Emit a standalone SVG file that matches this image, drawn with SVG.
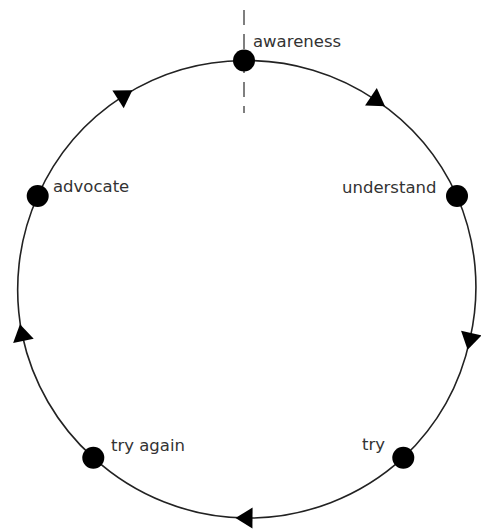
<svg xmlns="http://www.w3.org/2000/svg" xmlns:xlink="http://www.w3.org/1999/xlink" width="481" height="532" viewBox="0 0 481 532">
  <style>
    .edge { fill: none; stroke: #222; stroke-width: 1.6; marker-mid: url(#arrow); }
    .dot { fill: #000; }
    .label { font-family: "DejaVu Sans", Verdana, sans-serif; font-size: 16.5px; fill: #333; }
    .axis { stroke: #555; stroke-width: 1.5; stroke-dasharray: 15 9; fill: none; }
  </style>
  <defs>
    <marker id="arrow" viewBox="-15 -15 30 30" markerWidth="30" markerHeight="30" refX="0" refY="0" orient="auto" markerUnits="userSpaceOnUse" style="overflow:visible">
      <path d="M11,0 L-6,-10.5 L-6,10.5 Z" fill="#000"/>
    </marker>
  </defs>
  <rect width="481" height="532" fill="#fff"/>
  <line class="axis" x1="244" y1="10" x2="244" y2="113"/>
  <g id="connectors">
    <path class="edge" d="M244,60.5 A229,229 0 0 1 375.9,100.1 A229,229 0 0 1 457,196"/>
    <path class="edge" d="M457,196 A229,229 0 0 1 470,338.9 A229,229 0 0 1 403.3,457.7"/>
    <path class="edge" d="M403.3,457.7 A229,229 0 0 1 246.5,518 A229,229 0 0 1 93.3,457.7"/>
    <path class="edge" d="M93.3,457.7 A229,229 0 0 1 22.2,335 A229,229 0 0 1 37.7,196"/>
    <path class="edge" d="M37.7,196 A229,229 0 0 1 123.1,96.1 A229,229 0 0 1 244,60.5"/>
  </g>
  <g id="awareness">
    <circle class="dot" cx="244" cy="60.5" r="11"/>
    <text class="label" x="253" y="47">awareness</text>
  </g>
  <g id="understand">
    <circle class="dot" cx="457" cy="196" r="11"/>
    <text class="label" x="342" y="193">understand</text>
  </g>
  <g id="try">
    <circle class="dot" cx="403.3" cy="457.7" r="11"/>
    <text class="label" x="362" y="450">try</text>
  </g>
  <g id="try-again">
    <circle class="dot" cx="93.3" cy="457.7" r="11"/>
    <text class="label" x="111" y="451">try again</text>
  </g>
  <g id="advocate">
    <circle class="dot" cx="37.7" cy="196" r="11"/>
    <text class="label" x="53" y="192">advocate</text>
  </g>
</svg>
